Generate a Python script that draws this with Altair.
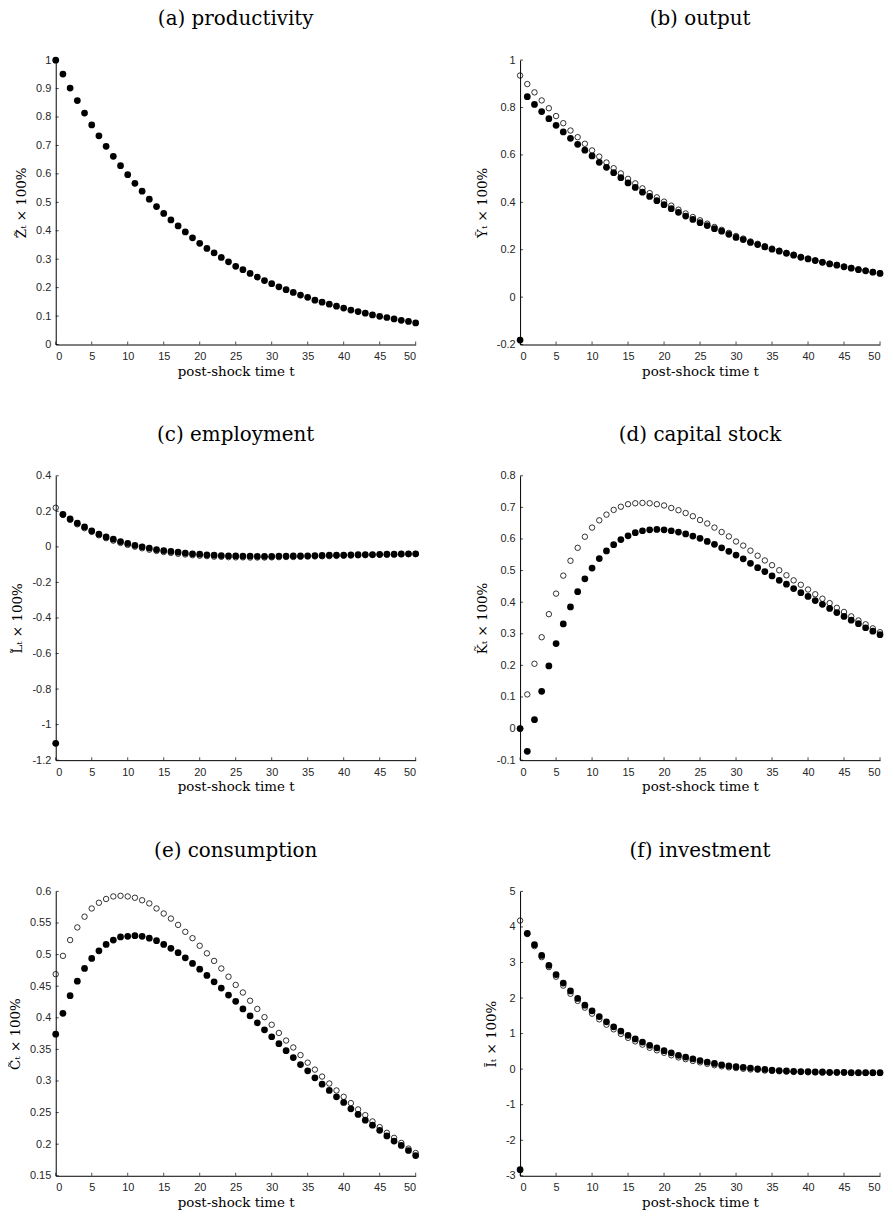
import altair as alt
import pandas as pd

# ---------------- data ----------------
t = list(range(51))
x_ticks = [0, 5, 10, 15, 20, 25, 30, 35, 40, 45, 50]

prod_filled = [1.000, 0.951, 0.902, 0.858, 0.814, 0.772, 0.734, 0.697, 0.662, 0.629,
               0.597, 0.567, 0.539, 0.511, 0.485, 0.461, 0.438, 0.417, 0.396, 0.375,
               0.356, 0.338, 0.322, 0.306, 0.291, 0.275, 0.263, 0.250, 0.237, 0.225,
               0.214, 0.203, 0.193, 0.183, 0.174, 0.166, 0.156, 0.149, 0.142, 0.135,
               0.128, 0.121, 0.116, 0.110, 0.104, 0.099, 0.095, 0.090, 0.085, 0.081,
               0.076]

out_filled = [-0.181, 0.846, 0.813, 0.783, 0.753, 0.725, 0.697, 0.670, 0.645, 0.620,
              0.596, 0.569, 0.548, 0.525, 0.504, 0.482, 0.463, 0.443, 0.425, 0.407,
              0.390, 0.373, 0.358, 0.342, 0.328, 0.314, 0.302, 0.289, 0.278, 0.265,
              0.252, 0.243, 0.231, 0.222, 0.212, 0.202, 0.194, 0.185, 0.177, 0.168,
              0.161, 0.154, 0.147, 0.140, 0.135, 0.128, 0.122, 0.116, 0.111, 0.105,
              0.100]
out_open = [0.935, 0.899, 0.864, 0.830, 0.797, 0.764, 0.734, 0.703, 0.675, 0.647,
            0.619, 0.593, 0.568, 0.544, 0.522, 0.499, 0.480, 0.459, 0.439, 0.421,
            0.403, 0.386, 0.369, 0.353, 0.338, 0.324, 0.310, 0.296, 0.284, 0.271,
            0.258, 0.247, 0.235, 0.225, 0.215, 0.205, 0.196, 0.187, 0.179, 0.170,
            0.162, 0.155, 0.148, 0.141, 0.136, 0.129, 0.123, 0.117, 0.112, 0.106,
            0.101]

emp_filled = [-1.105, 0.183, 0.157, 0.133, 0.112, 0.090, 0.071, 0.056, 0.043, 0.030,
              0.019, 0.009, 0.000, -0.007, -0.015, -0.021, -0.026, -0.030, -0.035, -0.039,
              -0.041, -0.045, -0.047, -0.049, -0.050, -0.051, -0.052, -0.052, -0.053, -0.053,
              -0.053, -0.052, -0.052, -0.051, -0.051, -0.050, -0.049, -0.048, -0.047, -0.046,
              -0.046, -0.045, -0.044, -0.043, -0.043, -0.042, -0.041, -0.041, -0.040, -0.039,
              -0.039]
emp_open = [0.220, 0.180, 0.152, 0.127, 0.105, 0.084, 0.065, 0.049, 0.035, 0.022,
            0.011, 0.001, -0.008, -0.016, -0.023, -0.029, -0.034, -0.039, -0.043, -0.047,
            -0.050, -0.052, -0.055, -0.056, -0.058, -0.059, -0.059, -0.060, -0.060, -0.060,
            -0.059, -0.058, -0.057, -0.057, -0.056, -0.055, -0.054, -0.053, -0.052, -0.051,
            -0.050, -0.049, -0.048, -0.047, -0.046, -0.045, -0.044, -0.043, -0.042, -0.041,
            -0.040]

cap_filled = [0.000, -0.072, 0.028, 0.118, 0.198, 0.269, 0.331, 0.385, 0.433, 0.474,
              0.508, 0.538, 0.562, 0.582, 0.598, 0.610, 0.620, 0.626, 0.629, 0.630,
              0.629, 0.626, 0.622, 0.616, 0.609, 0.602, 0.592, 0.583, 0.572, 0.561,
              0.549, 0.537, 0.523, 0.509, 0.497, 0.483, 0.469, 0.457, 0.443, 0.430,
              0.418, 0.405, 0.393, 0.380, 0.367, 0.355, 0.343, 0.332, 0.319, 0.308,
              0.297]
cap_open = [0.000, 0.108, 0.205, 0.289, 0.362, 0.427, 0.484, 0.531, 0.572, 0.607,
            0.636, 0.659, 0.677, 0.692, 0.702, 0.710, 0.713, 0.714, 0.713, 0.710,
            0.706, 0.698, 0.691, 0.682, 0.672, 0.660, 0.649, 0.636, 0.622, 0.608,
            0.592, 0.579, 0.563, 0.547, 0.532, 0.517, 0.501, 0.485, 0.469, 0.455,
            0.440, 0.425, 0.411, 0.397, 0.382, 0.369, 0.355, 0.342, 0.330, 0.317,
            0.305]

cons_filled = [0.374, 0.407, 0.435, 0.458, 0.478, 0.494, 0.506, 0.516, 0.523, 0.528,
               0.529, 0.530, 0.529, 0.526, 0.522, 0.516, 0.510, 0.503, 0.495, 0.486,
               0.477, 0.467, 0.457, 0.447, 0.436, 0.426, 0.414, 0.403, 0.392, 0.381,
               0.370, 0.359, 0.348, 0.337, 0.326, 0.316, 0.305, 0.295, 0.285, 0.275,
               0.266, 0.256, 0.247, 0.238, 0.230, 0.222, 0.213, 0.205, 0.198, 0.190,
               0.182]
cons_open = [0.469, 0.498, 0.523, 0.543, 0.560, 0.573, 0.582, 0.588, 0.592, 0.593,
             0.592, 0.590, 0.586, 0.581, 0.573, 0.565, 0.557, 0.547, 0.536, 0.526,
             0.514, 0.502, 0.490, 0.478, 0.465, 0.452, 0.440, 0.427, 0.414, 0.401,
             0.389, 0.376, 0.364, 0.353, 0.341, 0.329, 0.318, 0.307, 0.296, 0.285,
             0.275, 0.265, 0.255, 0.246, 0.236, 0.227, 0.218, 0.210, 0.202, 0.193,
             0.186]

inv_filled = [-2.83, 3.82, 3.50, 3.20, 2.92, 2.66, 2.42, 2.20, 1.99, 1.80,
              1.64, 1.48, 1.33, 1.19, 1.07, 0.95, 0.85, 0.76, 0.67, 0.60,
              0.52, 0.46, 0.39, 0.34, 0.29, 0.24, 0.20, 0.16, 0.12, 0.09,
              0.07, 0.05, 0.03, 0.01, -0.01, -0.03, -0.04, -0.05, -0.06, -0.07,
              -0.07, -0.08, -0.08, -0.09, -0.09, -0.09, -0.10, -0.10, -0.10, -0.10,
              -0.10]
inv_open = [4.18, 3.80, 3.46, 3.15, 2.87, 2.60, 2.35, 2.12, 1.92, 1.73,
            1.56, 1.40, 1.25, 1.12, 0.99, 0.88, 0.78, 0.69, 0.60, 0.53,
            0.46, 0.39, 0.33, 0.28, 0.23, 0.19, 0.15, 0.11, 0.08, 0.05,
            0.03, 0.01, -0.01, -0.02, -0.04, -0.05, -0.06, -0.07, -0.08, -0.08,
            -0.09, -0.09, -0.10, -0.10, -0.10, -0.10, -0.11, -0.11, -0.11, -0.11,
            -0.11]

yticks_a = [0, 0.1, 0.2, 0.3, 0.4, 0.5, 0.6, 0.7, 0.8, 0.9, 1]
yticks_b = [-0.2, 0, 0.2, 0.4, 0.6, 0.8, 1]
yticks_c = [-1.2, -1, -0.8, -0.6, -0.4, -0.2, 0, 0.2, 0.4]
yticks_d = [-0.1, 0, 0.1, 0.2, 0.3, 0.4, 0.5, 0.6, 0.7, 0.8]
yticks_e = [0.15, 0.2, 0.25, 0.3, 0.35, 0.4, 0.45, 0.5, 0.55, 0.6]
yticks_f = [-3, -2, -1, 0, 1, 2, 3, 4, 5]

SERIF = "DejaVu Serif"
SANS = "Liberation Sans"
W, H = 362, 286


def panel(title, ytitle, filled, opened, yticks):
    ydom = [yticks[0], yticks[-1]]
    x = alt.X("t:Q",
              scale=alt.Scale(domain=[x_ticks[0], x_ticks[-1]], nice=False, zero=False),
              axis=alt.Axis(values=x_ticks, title="post-shock time t",
                            titleFont=SERIF, titleFontSize=13.5, titleFontWeight="normal",
                            labelFont=SANS, labelExpr="toString(datum.value)"))
    y = alt.Y("v:Q",
              scale=alt.Scale(domain=ydom, nice=False, zero=False),
              axis=alt.Axis(values=yticks, title=ytitle,
                            titleFont=SERIF, titleFontSize=13.5, titleFontWeight="normal",
                            labelFont=SANS, labelExpr="toString(datum.value)"))
    layers = []
    if opened is not None:
        df_o = pd.DataFrame({"t": t, "v": opened})
        layers.append(alt.Chart(df_o).mark_point(shape="circle", filled=False, size=30,
                                                 strokeWidth=0.8, color="black",
                                                 opacity=1).encode(x=x, y=y))
    df_f = pd.DataFrame({"t": t, "v": filled})
    layers.append(alt.Chart(df_f).mark_circle(size=46, color="black", opacity=1)
                  .encode(x=x, y=y))
    xt = pd.DataFrame({"t": x_ticks, "v": [ydom[0]] * len(x_ticks)})
    layers.append(alt.Chart(xt).mark_tick(orient="vertical", size=3, thickness=1,
                                          yOffset=-1.5, color="black").encode(x=x, y=y))
    yt = pd.DataFrame({"t": [x_ticks[0]] * len(yticks), "v": yticks})
    layers.append(alt.Chart(yt).mark_tick(orient="horizontal", size=3, thickness=1,
                                          xOffset=1.5, color="black").encode(x=x, y=y))
    return alt.layer(*layers).properties(
        width=W, height=H,
        title=alt.TitleParams(title, font=SERIF, fontSize=20, fontWeight="normal",
                              color="black", offset=25, anchor="middle"))


pa = panel("(a) productivity", "Z\u0303\u209c \u00d7 100%", prod_filled, None, yticks_a)
pb = panel("(b) output", "\u1ef8\u209c \u00d7 100%", out_filled, out_open, yticks_b)
pc = panel("(c) employment", "L\u0303\u209c \u00d7 100%", emp_filled, emp_open, yticks_c)
pd_ = panel("(d) capital stock", "K\u0303\u209c \u00d7 100%", cap_filled, cap_open, yticks_d)
pe = panel("(e) consumption", "C\u0303\u209c \u00d7 100%", cons_filled, cons_open, yticks_e)
pf = panel("(f) investment", "\u0128\u209c \u00d7 100%", inv_filled, inv_open, yticks_f)

chart = alt.concat(pa, pb, pc, pd_, pe, pf, columns=2,
                   spacing={"row": 132, "column": 105}, bounds="flush").properties(
    padding={"top": -2, "left": 0, "right": 0, "bottom": 0}
).configure_view(stroke=None).configure_axis(
    grid=False, ticks=False, domainColor="black", domainWidth=1,
    labelFont=SANS, labelFontSize=11, labelColor="#262626", labelPadding=5,
    titleFont=SERIF, titleFontSize=13.5, titleFontWeight="normal", titleColor="black",
    titlePadding=7
).configure_axisX(labelPadding=6, titlePadding=3)

chart.save("out.html", embed_options={"renderer": "svg", "actions": False})
